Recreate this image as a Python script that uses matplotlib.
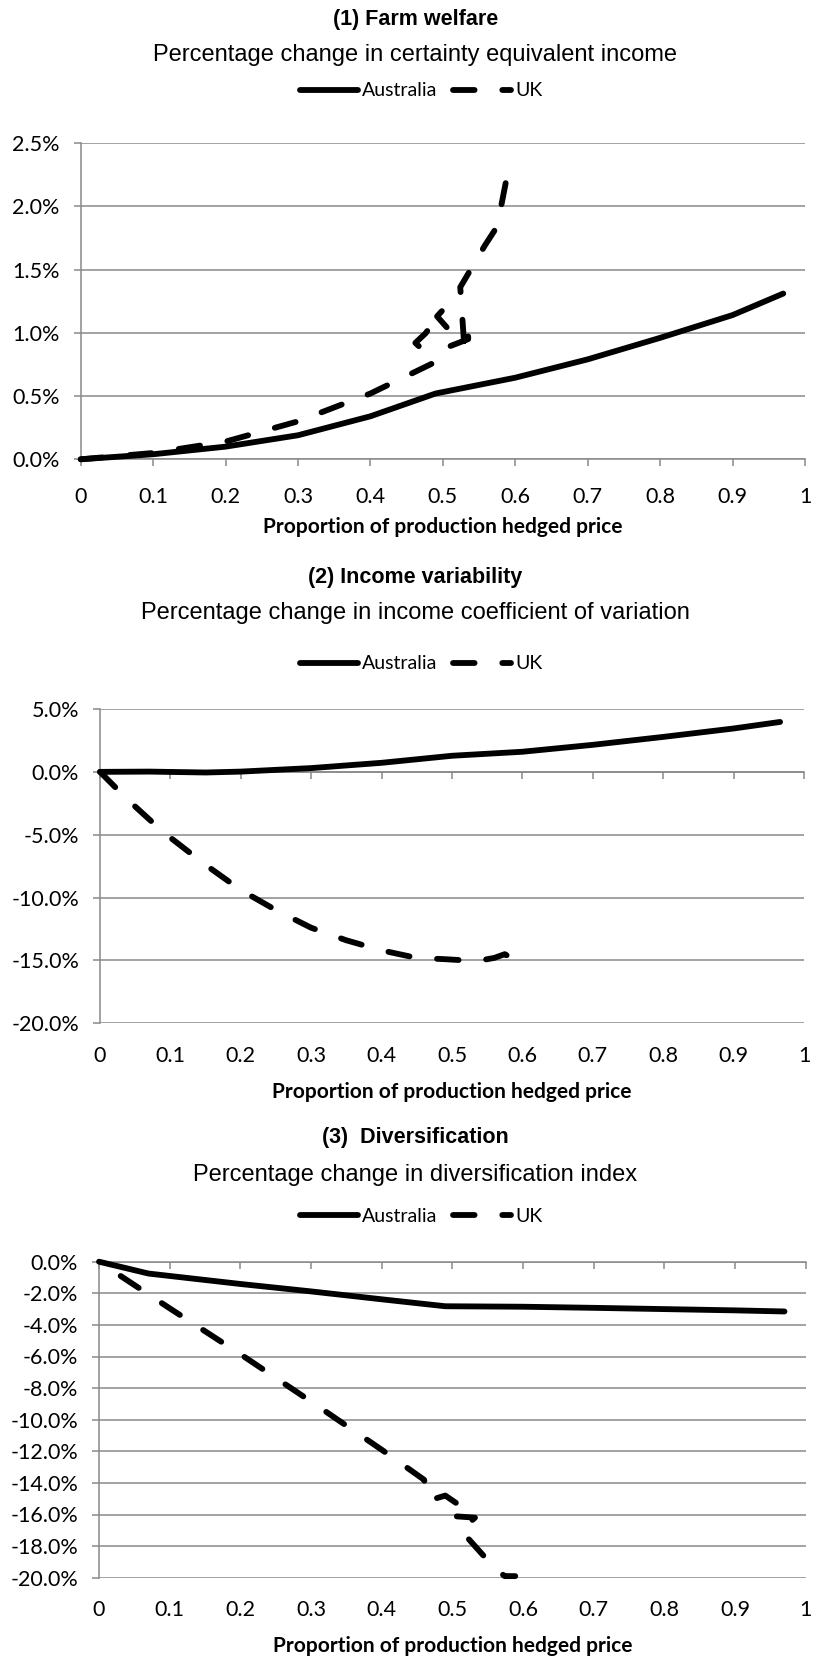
import matplotlib
matplotlib.use("Agg")
import matplotlib.pyplot as plt
from matplotlib import font_manager
from matplotlib.lines import Line2D
from matplotlib.ticker import FuncFormatter

# proportion of production hedged (x) vs percentage change (y)
aus_welfare_x = [0, 0.1, 0.2, 0.3, 0.4, 0.49, 0.6, 0.7, 0.8, 0.9, 0.97]
aus_welfare_y = [0.0, 0.04, 0.10, 0.19, 0.34, 0.52, 0.645, 0.79, 0.96, 1.14, 1.31]
uk_welfare_x = [0, 0.1, 0.2, 0.3, 0.4, 0.49, 0.462, 0.476, 0.50, 0.492, 0.512,
                0.535, 0.535, 0.508, 0.53, 0.524, 0.558, 0.575, 0.588]
uk_welfare_y = [0.0, 0.05, 0.14, 0.30, 0.52, 0.77, 0.92, 0.995, 1.18, 1.13, 1.0,
                1.0, 0.95, 0.89, 0.86, 1.36, 1.69, 1.84, 2.22]

aus_cv_x = [0, 0.07, 0.15, 0.2, 0.3, 0.4, 0.5, 0.6, 0.7, 0.8, 0.9, 0.966]
aus_cv_y = [0.0, 0.02, -0.05, 0.02, 0.3, 0.72, 1.28, 1.6, 2.15, 2.78, 3.45, 3.97]
uk_cv_x = [0, 0.04, 0.09, 0.15, 0.2, 0.25, 0.3, 0.35, 0.4, 0.45, 0.49, 0.535, 0.56, 0.575, 0.59]
uk_cv_y = [0.0, -2.25, -4.8, -7.4, -9.4, -11.0, -12.4, -13.4, -14.2, -14.8, -14.9, -15.05,
           -14.8, -14.5, -15.0]

aus_div_x = [0, 0.03, 0.07, 0.2, 0.3, 0.4, 0.49, 0.6, 0.7, 0.8, 0.9, 0.97]
aus_div_y = [0, -0.32, -0.75, -1.41, -1.88, -2.38, -2.82, -2.85, -2.92, -3.0, -3.08, -3.15]
uk_div_x = [0, 0.1, 0.2, 0.3, 0.4, 0.46, 0.468, 0.49, 0.516, 0.50, 0.532, 0.512, 0.534,
            0.56, 0.574, 0.589]
uk_div_y = [0, -2.95, -5.85, -8.85, -11.9, -13.8, -15.1, -14.8, -15.6, -16.1, -16.2, -17.0,
            -18.1, -19.4, -19.9, -19.9]

x_ticks = [0, 0.1, 0.2, 0.3, 0.4, 0.5, 0.6, 0.7, 0.8, 0.9, 1]
x_tick_labels = ["0", "0.1", "0.2", "0.3", "0.4", "0.5", "0.6", "0.7", "0.8", "0.9", "1"]

titles = ["(1) Farm welfare", "(2) Income variability", "(3)  Diversification"]
subtitles = ["Percentage change in certainty equivalent income",
             "Percentage change in income coefficient of variation",
             "Percentage change in diversification index"]
x_label = "Proportion of production hedged price"

W, H = 814, 1657
GRID = "#898989"
LW = 4.2
DASH_ON, DASH_OFF = 3.7, 4.75
TICK_FS = 15.5

installed = {f.name for f in font_manager.fontManager.ttflist}
head_font = "Liberation Sans Narrow" if "Liberation Sans Narrow" in installed else "Liberation Sans"
body_font = "Lato"

fig = plt.figure(figsize=(W / 100, H / 100), dpi=100)


def add_axes_px(left, top, right, bottom):
    return fig.add_axes([left / W, 1 - bottom / H, (right - left) / W, (bottom - top) / H])


def fy(y):
    return 1 - y / H


def panel(box, ylim, ystep, aus_x, aus_y, uk_x, uk_y, idx, text_y, zero_axis, xpad,
          dash_offset):
    ax = add_axes_px(*box)
    ax.plot(aus_x, aus_y, color="black", lw=LW, solid_capstyle="round",
            solid_joinstyle="round", clip_on=False, zorder=3)
    ax.plot(uk_x, uk_y, color="black", lw=LW, linestyle=(dash_offset, (DASH_ON, DASH_OFF)),
            dash_capstyle="round", dash_joinstyle="round", clip_on=False, zorder=3)
    ax.set_xlim(0, 1)
    ax.set_ylim(*ylim)
    yt = [ylim[0] + i * ystep for i in range(int(round((ylim[1] - ylim[0]) / ystep)) + 1)]
    ax.set_yticks(yt)
    ax.yaxis.set_major_formatter(FuncFormatter(lambda v, p: f"{v:.1f}%"))
    ax.grid(axis="y", color=GRID, lw=1.1, zorder=0)
    ax.set_axisbelow(True)
    for s in ["top", "right"]:
        ax.spines[s].set_visible(False)
    ax.spines["left"].set_color(GRID)
    ax.spines["left"].set_linewidth(1.1)
    ax.spines["bottom"].set_color(GRID)
    ax.spines["bottom"].set_linewidth(1.1)
    ax.tick_params(axis="y", direction="out", length=5, width=1.1, color=GRID, pad=10,
                   labelsize=TICK_FS, labelfontfamily=body_font)
    ax.set_xticks(x_ticks)
    if zero_axis:
        ax.spines["bottom"].set_position(("data", 0))
        ax.tick_params(axis="x", direction="out", length=5, width=1.1, color=GRID,
                       labelbottom=False)
        sec = ax.secondary_xaxis("bottom")
        sec.set_xticks(x_ticks, x_tick_labels)
        sec.spines["bottom"].set_visible(False)
        sec.tick_params(length=0, pad=xpad, labelsize=TICK_FS, labelfontfamily=body_font)
    else:
        ax.set_xticklabels(x_tick_labels)
        ax.tick_params(axis="x", direction="out", length=5, width=1.1, color=GRID, pad=xpad,
                       labelsize=TICK_FS, labelfontfamily=body_font)

    t_y, s_y, l_y, xl_y = text_y
    fig.text(0.51, fy(t_y), titles[idx], ha="center", va="center", fontsize=15.5,
             fontweight="bold", family=head_font)
    fig.text(0.51, fy(s_y), subtitles[idx], ha="center", va="center", fontsize=17,
             family=head_font)
    handles = [Line2D([], [], color="black", lw=LW, solid_capstyle="round"),
               Line2D([], [], color="black", lw=LW, linestyle=(0, (DASH_ON, DASH_OFF)),
                      dash_capstyle="round")]
    ax.legend(handles, ["Australia", "UK"], loc="center", bbox_to_anchor=(0.517, fy(l_y)),
              bbox_transform=fig.transFigure, ncol=2, frameon=False, handlelength=3.0,
              handletextpad=0.2, columnspacing=0.8, prop={"family": body_font, "size": 14})
    cx = (box[0] + box[2]) / 2 / W
    fig.text(cx, fy(xl_y), x_label, ha="center", va="center", fontsize=15,
             fontweight="bold", family=body_font)
    return ax


panel((80.7, 143, 805, 459.3), (0, 2.5), 0.5, aus_welfare_x, aus_welfare_y,
      uk_welfare_x, uk_welfare_y, 0, (19, 55, 91, 527), False, 15, 0)
panel((100, 709, 804, 1023.3), (-20, 5), 5, aus_cv_x, aus_cv_y,
      uk_cv_x, uk_cv_y, 1, (577, 613, 664, 1092), True, 16, 0)
panel((99, 1261.7, 805.7, 1577.7), (-20, 0), 2, aus_div_x, aus_div_y,
      uk_div_x, uk_div_y, 2, (1138, 1175, 1216, 1646), True, 16, 4.0)

fig.savefig("out.png", dpi=100)
